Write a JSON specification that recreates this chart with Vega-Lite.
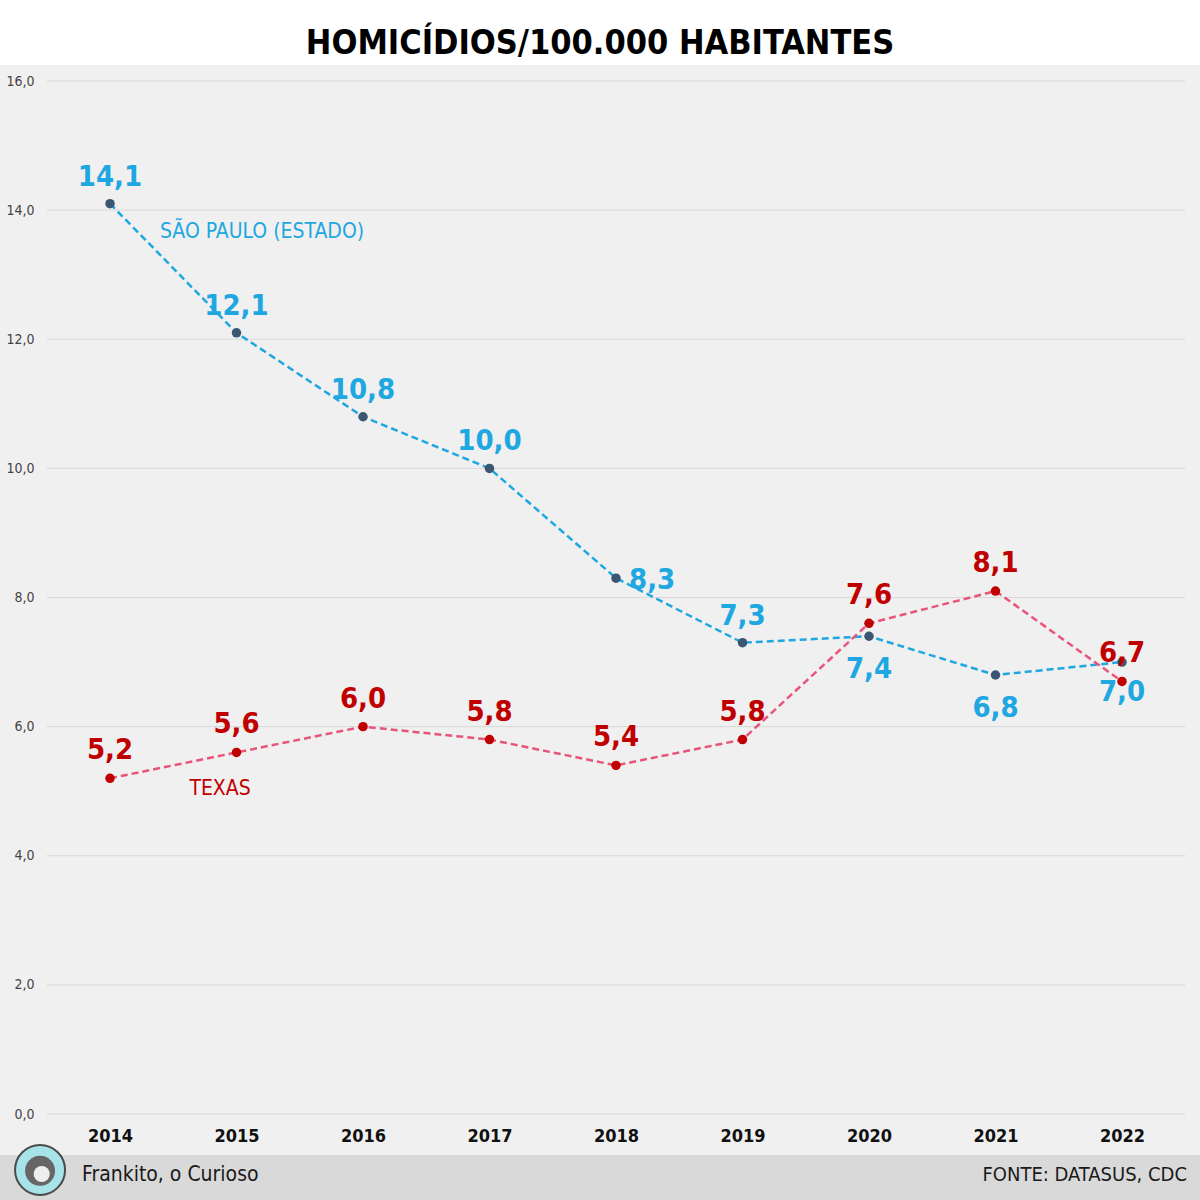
{
  "$schema": "https://vega.github.io/schema/vega-lite/v6.json",
  "width": 1200,
  "height": 1135,
  "autosize": {"type": "none"},
  "padding": {"top": 65, "left": 0, "right": 0, "bottom": 0},
  "background": "#ffffff",
  "title": {
    "text": "HOMICÍDIOS/100.000 HABITANTES",
    "anchor": "middle",
    "frame": "group",
    "fontSize": 34,
    "font": "DejaVu Sans Condensed",
    "fontWeight": "bold",
    "color": "#000000",
    "baseline": "alphabetic",
    "offset": 13,
    "dy": 36
  },
  "config": {
    "view": {"fill": "#f0f0f0", "stroke": null},
    "locale": {"number": {"decimal": ",", "thousands": ".", "grouping": [3], "currency": ["R$", ""]}},
    "font": "DejaVu Sans Condensed",
    "axis": {"grid": false, "domain": false, "ticks": false, "title": null}
  },
  "datasets": {
    "serie": [
      {"ano": 2014, "serie": "SP", "v": 14.1},
      {"ano": 2015, "serie": "SP", "v": 12.1},
      {"ano": 2016, "serie": "SP", "v": 10.8},
      {"ano": 2017, "serie": "SP", "v": 10.0},
      {"ano": 2018, "serie": "SP", "v": 8.3},
      {"ano": 2019, "serie": "SP", "v": 7.3},
      {"ano": 2020, "serie": "SP", "v": 7.4},
      {"ano": 2021, "serie": "SP", "v": 6.8},
      {"ano": 2022, "serie": "SP", "v": 7.0},
      {"ano": 2014, "serie": "TX", "v": 5.2},
      {"ano": 2015, "serie": "TX", "v": 5.6},
      {"ano": 2016, "serie": "TX", "v": 6.0},
      {"ano": 2017, "serie": "TX", "v": 5.8},
      {"ano": 2018, "serie": "TX", "v": 5.4},
      {"ano": 2019, "serie": "TX", "v": 5.8},
      {"ano": 2020, "serie": "TX", "v": 7.6},
      {"ano": 2021, "serie": "TX", "v": 8.1},
      {"ano": 2022, "serie": "TX", "v": 6.7}
    ],
    "grade": [
      {"g": 0}, {"g": 2}, {"g": 4}, {"g": 6}, {"g": 8}, {"g": 10}, {"g": 12}, {"g": 14}, {"g": 16}
    ]
  },
  "layer": [
    {
      "data": {"name": "grade"},
      "mark": {"type": "rule", "color": "#d9d9d9", "strokeWidth": 1},
      "encoding": {
        "x": {"datum": 2013.5, "type": "quantitative", "scale": {"domain": [2013.1304, 2022.6166], "nice": false, "zero": false}},
        "x2": {"datum": 2022.5},
        "y": {"field": "g", "type": "quantitative", "scale": {"domain": [-1.332, 16.248], "nice": false, "zero": false}}
      }
    },
    {
      "data": {"values": [{"k": 1}]},
      "mark": {"type": "rect", "fill": "#d9d9d9"},
      "encoding": {
        "x": {"datum": 2013.1304, "type": "quantitative"},
        "x2": {"datum": 2022.6166},
        "y": {"datum": -0.635, "type": "quantitative"},
        "y2": {"datum": -1.332}
      }
    },
    {
      "data": {"values": [{"k": 1}]},
      "mark": {"type": "point", "shape": "circle", "filled": true, "fill": "#a6e4ea", "stroke": "#4a4a4a", "strokeWidth": 2, "size": 2500, "opacity": 1},
      "encoding": {
        "x": {"datum": 2013.447, "type": "quantitative"},
        "y": {"datum": -0.867, "type": "quantitative"}
      }
    },
    {
      "data": {"values": [{"k": 1}]},
      "mark": {"type": "point", "shape": "circle", "filled": true, "fill": "#666666", "size": 900, "opacity": 1},
      "encoding": {
        "x": {"datum": 2013.447, "type": "quantitative"},
        "y": {"datum": -0.88, "type": "quantitative"}
      }
    },
    {
      "data": {"values": [{"k": 1}]},
      "mark": {"type": "point", "shape": "circle", "filled": true, "fill": "#eeeeee", "size": 260, "opacity": 1},
      "encoding": {
        "x": {"datum": 2013.46, "type": "quantitative"},
        "y": {"datum": -0.93, "type": "quantitative"}
      }
    },
    {
      "data": {"values": [{"k": 1}]},
      "mark": {"type": "text", "text": "Frankito, o Curioso", "align": "left", "baseline": "middle", "fontSize": 21, "color": "#1a1a1a"},
      "encoding": {
        "x": {"datum": 2013.779, "type": "quantitative"},
        "y": {"datum": -0.945, "type": "quantitative"}
      }
    },
    {
      "data": {"values": [{"k": 1}]},
      "mark": {"type": "text", "text": "FONTE: DATASUS, CDC", "align": "right", "baseline": "middle", "fontSize": 20, "color": "#1a1a1a"},
      "encoding": {
        "x": {"datum": 2022.514, "type": "quantitative"},
        "y": {"datum": -0.945, "type": "quantitative"}
      }
    },
    {
      "data": {"name": "serie"},
      "encoding": {
        "x": {
          "field": "ano",
          "type": "quantitative",
          "axis": {
            "values": [2014, 2015, 2016, 2017, 2018, 2019, 2020, 2021, 2022],
            "format": "d",
            "orient": "bottom",
            "offset": -75,
            "labelPadding": 2,
            "labelBaseline": "top",
            "labelFontSize": 18,
            "labelFontWeight": "bold",
            "labelColor": "#111111"
          }
        },
        "y": {
          "field": "v",
          "type": "quantitative",
          "axis": {
            "values": [0, 2, 4, 6, 8, 10, 12, 14, 16],
            "format": ".1f",
            "offset": -37,
            "labelPadding": 3,
            "labelFontSize": 14,
            "labelColor": "#444444"
          }
        }
      },
      "layer": [
        {
          "transform": [{"filter": "datum.serie === 'SP'"}],
          "mark": {"type": "line", "color": "#1ea7e1", "strokeDash": [7, 4], "strokeWidth": 2.5},
          "encoding": {}
        },
        {
          "transform": [{"filter": "datum.serie === 'TX'"}],
          "mark": {"type": "line", "color": "#e8557a", "strokeDash": [7, 4], "strokeWidth": 2.5},
          "encoding": {}
        },
        {
          "transform": [{"filter": "datum.serie === 'SP'"}],
          "mark": {"type": "point", "shape": "circle", "filled": true, "fill": "#3a5673", "size": 90, "opacity": 1},
          "encoding": {}
        },
        {
          "transform": [{"filter": "datum.serie === 'TX'"}],
          "mark": {"type": "point", "shape": "circle", "filled": true, "fill": "#c00000", "size": 90, "opacity": 1},
          "encoding": {}
        },
        {
          "transform": [{"filter": "datum.serie === 'SP' && (datum.ano <= 2017 || datum.ano === 2019)"}],
          "mark": {"type": "text", "color": "#1ea7e1", "fontSize": 29, "fontWeight": "bold", "baseline": "middle", "dy": -27},
          "encoding": {"text": {"field": "v", "type": "quantitative", "format": ".1f"}}
        },
        {
          "transform": [{"filter": "datum.serie === 'SP' && datum.ano === 2018"}],
          "mark": {"type": "text", "color": "#1ea7e1", "fontSize": 29, "fontWeight": "bold", "baseline": "middle", "align": "left", "dx": 13, "dy": 2},
          "encoding": {"text": {"field": "v", "type": "quantitative", "format": ".1f"}}
        },
        {
          "transform": [{"filter": "datum.serie === 'SP' && datum.ano >= 2020 && datum.ano <= 2021"}],
          "mark": {"type": "text", "color": "#1ea7e1", "fontSize": 29, "fontWeight": "bold", "baseline": "middle", "dy": 33},
          "encoding": {"text": {"field": "v", "type": "quantitative", "format": ".1f"}}
        },
        {
          "transform": [{"filter": "datum.serie === 'SP' && datum.ano === 2022"}],
          "mark": {"type": "text", "color": "#1ea7e1", "fontSize": 29, "fontWeight": "bold", "baseline": "middle", "dy": 30},
          "encoding": {"text": {"field": "v", "type": "quantitative", "format": ".1f"}}
        },
        {
          "transform": [{"filter": "datum.serie === 'TX'"}],
          "mark": {"type": "text", "color": "#c00000", "fontSize": 29, "fontWeight": "bold", "baseline": "middle", "dy": -28},
          "encoding": {"text": {"field": "v", "type": "quantitative", "format": ".1f"}}
        }
      ]
    },
    {
      "data": {"values": [{"k": 1}]},
      "mark": {"type": "text", "text": "SÃO PAULO (ESTADO)", "align": "left", "baseline": "middle", "fontSize": 21, "color": "#1ea7e1"},
      "encoding": {
        "x": {"datum": 2014.395, "type": "quantitative"},
        "y": {"datum": 13.66, "type": "quantitative"}
      }
    },
    {
      "data": {"values": [{"k": 1}]},
      "mark": {"type": "text", "text": "TEXAS", "align": "center", "baseline": "middle", "fontSize": 21, "color": "#c00000"},
      "encoding": {
        "x": {"datum": 2014.87, "type": "quantitative"},
        "y": {"datum": 5.03, "type": "quantitative"}
      }
    }
  ]
}
